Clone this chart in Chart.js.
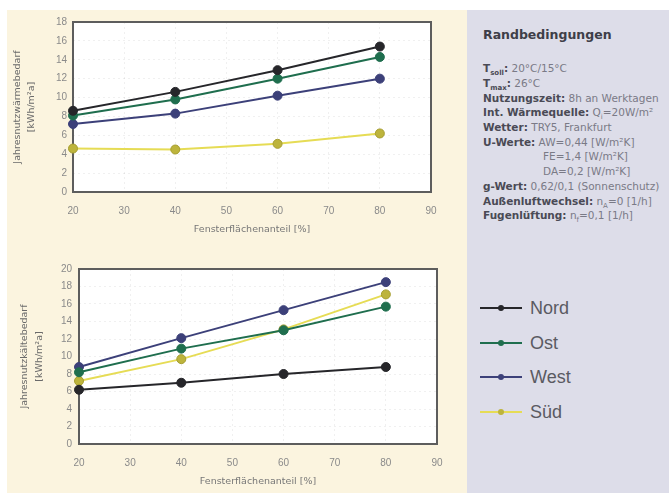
<!DOCTYPE html>
<html>
<head>
<meta charset="utf-8">
<script src="https://cdn.jsdelivr.net/npm/chart.js@4/dist/chart.umd.min.js"></script>
<style>
  html, body { margin: 0; padding: 0; background: #ffffff; }
  body { width: 669px; height: 493px; position: relative; overflow: hidden; font-family: "Liberation Sans", Arial, sans-serif; }
  .cream { position: absolute; left: 7px; top: 10px; width: 460px; height: 483px; background: #fbf4df; }
  .panel { position: absolute; left: 467px; top: 10px; width: 202px; height: 483px; background: #dddde9; }
  canvas { position: absolute; left: 0; }
  .cond { position: absolute; left: 483px; font-family: "DejaVu Sans", sans-serif; font-size: 10.5px; color: #7a7a86; white-space: nowrap; line-height: 12px; }
  .cond b { color: #4a4a55; }
  .cond sub { font-size: 7px; }
  .head { position: absolute; left: 483px; top: 27px; font-family: "DejaVu Sans", sans-serif; font-size: 12.5px; font-weight: bold; color: #3e3e48; }
  .leg { position: absolute; left: 480px; height: 20px; }
  .leg .ln { position: absolute; left: 0; top: 9px; width: 42px; height: 2px; }
  .leg .dot { position: absolute; left: 18px; top: 7px; width: 6px; height: 6px; border-radius: 50%; }
  .leg span { position: absolute; left: 50px; top: 0; font-size: 18px; line-height: 20px; color: #5a5a62; }
</style>
</head>
<body>
<div class="cream"></div>
<div class="panel"></div>
<canvas id="top" width="460" height="240" style="top:0"></canvas>
<canvas id="bottom" width="460" height="253" style="top:240px"></canvas>

<div class="head">Randbedingungen</div>
<div class="cond" style="top:62px"><b>T<sub>soll</sub>:</b> 20°C/15°C</div>
<div class="cond" style="top:77px"><b>T<sub>max</sub>:</b> 26°C</div>
<div class="cond" style="top:92px"><b>Nutzungszeit:</b> 8h an Werktagen</div>
<div class="cond" style="top:106px"><b>Int. Wärmequelle:</b> Q<sub>i</sub>=20W/m²</div>
<div class="cond" style="top:121px"><b>Wetter:</b> TRY5, Frankfurt</div>
<div class="cond" style="top:136px"><b>U-Werte:</b> AW=0,44 [W/m²K]</div>
<div class="cond" style="top:150px; left:543px">FE=1,4 [W/m²K]</div>
<div class="cond" style="top:165px; left:543px">DA=0,2 [W/m²K]</div>
<div class="cond" style="top:180px"><b>g-Wert:</b> 0,62/0,1 (Sonnenschutz)</div>
<div class="cond" style="top:195px"><b>Außenluftwechsel:</b> n<sub>A</sub>=0 [1/h]</div>
<div class="cond" style="top:209px"><b>Fugenlüftung:</b> n<sub>f</sub>=0,1 [1/h]</div>

<div id="legend"></div>

<script>
const fensterAnteil = [20, 40, 60, 80];
const seriesNames = ['Nord', 'Ost', 'West', 'Süd'];
const waermeNord = [8.6, 10.6, 12.9, 15.4];
const waermeOst = [8.1, 9.8, 12.0, 14.3];
const waermeWest = [7.2, 8.3, 10.2, 12.0];
const waermeSued = [4.6, 4.5, 5.1, 6.2];
const kaelteNord = [6.2, 7.0, 8.0, 8.8];
const kaelteOst = [8.2, 10.9, 13.0, 15.7];
const kaelteWest = [8.8, 12.1, 15.3, 18.5];
const kaelteSued = [7.2, 9.7, 13.1, 17.1];

const lineColors = ['#26262a', '#1f6e4e', '#3c4079', '#e6dc55'];
const pointColors = ['#26262a', '#1f6e4e', '#3c4079', '#bdb43c'];

// legend in the side panel
const legend = document.getElementById('legend');
seriesNames.forEach((name, i) => {
    const d = document.createElement('div');
    d.className = 'leg';
    d.style.top = (298 + i * 34.5) + 'px';
    d.innerHTML = '<div class="ln" style="background:' + lineColors[i] + '"></div>' +
        '<div class="dot" style="background:' + pointColors[i] + '"></div><span>' + name + '</span>';
    legend.appendChild(d);
});

function makeDatasets(values) {
    return values.map((v, i) => ({
        label: seriesNames[i],
        data: fensterAnteil.map((x, j) => ({ x: x, y: v[j] })),
        borderColor: lineColors[i],
        backgroundColor: pointColors[i],
        pointBackgroundColor: pointColors[i],
        pointBorderColor: i === 3 ? '#a69e30' : lineColors[i],
        pointBorderWidth: 1,
        pointRadius: 4.5,
        borderWidth: 2,
        tension: 0,
        clip: false
    }));
}

const frame = {
    id: 'frame',
    beforeDatasetsDraw(chart) {
        const { ctx, chartArea: a } = chart;
        ctx.save();
        ctx.strokeStyle = '#5d5d5d';
        ctx.lineWidth = 2;
        ctx.strokeRect(a.left, a.top, a.right - a.left, a.bottom - a.top);
        ctx.restore();
    }
};

const plotBg = {
    id: 'plotBg',
    beforeDraw(chart) {
        const { ctx, chartArea: a } = chart;
        ctx.save();
        ctx.fillStyle = '#ffffff';
        ctx.fillRect(a.left, a.top, a.right - a.left, a.bottom - a.top);
        ctx.restore();
    }
};

function makeChart(id, values, yMax, yTitle, opt) {
    return new Chart(document.getElementById(id), {
        type: 'line',
        data: { datasets: makeDatasets(values) },
        plugins: [plotBg, frame],
        options: {
            responsive: false,
            animation: false,
            layout: { padding: { top: opt.top, right: opt.right, left: 0, bottom: 0 } },
            plugins: { legend: { display: false }, tooltip: { enabled: false } },
            scales: {
                x: {
                    type: 'linear', min: 20, max: 90,
                    ticks: { stepSize: 10, color: '#8a8a8a', font: { family: 'Liberation Sans', size: 10 }, padding: 13 },
                    grid: { color: 'rgba(0,0,0,0.06)', drawTicks: false },
                    border: { display: false, dash: [2, 3] },
                    title: { display: true, text: 'Fensterflächenanteil [%]', color: '#777777',
                        font: { family: 'DejaVu Sans', size: 9.5, lineHeight: 1.2 }, padding: { top: 0, bottom: opt.xTitlePad } },
                    afterFit: s => { s.height = opt.xHeight; }
                },
                y: {
                    min: 0, max: yMax,
                    ticks: { stepSize: 2, color: '#8a8a8a', font: { family: 'Liberation Sans', size: 10 }, padding: opt.yTickPad },
                    grid: { color: 'rgba(0,0,0,0.06)', drawTicks: false },
                    border: { display: false, dash: [2, 3] },
                    title: { display: true, text: yTitle, color: '#6a6a6a',
                        font: { family: 'DejaVu Sans', size: 9.5, lineHeight: opt.yTitleLh / 9.5 }, padding: { top: opt.yTitlePad, bottom: 0 } },
                    afterFit: s => { s.width = opt.yWidth; }
                }
            }
        }
    });
}

makeChart('top', [waermeNord, waermeOst, waermeWest, waermeSued], 18,
    ['Jahresnutzwärmebedarf', '[kWh/m²a]'],
    { top: 22, right: 29, xHeight: 48, yWidth: 73, xTitlePad: 5, yTickPad: 6, yTitlePad: 11, yTitleLh: 14 });

makeChart('bottom', [kaelteNord, kaelteOst, kaelteWest, kaelteSued], 20,
    ['Jahresnutzkältebedarf', '[kWh/m²a]'],
    { top: 29, right: 23, xHeight: 49, yWidth: 79, xTitlePad: 6, yTickPad: 7, yTitlePad: 17, yTitleLh: 15 });
</script>
</body>
</html>
